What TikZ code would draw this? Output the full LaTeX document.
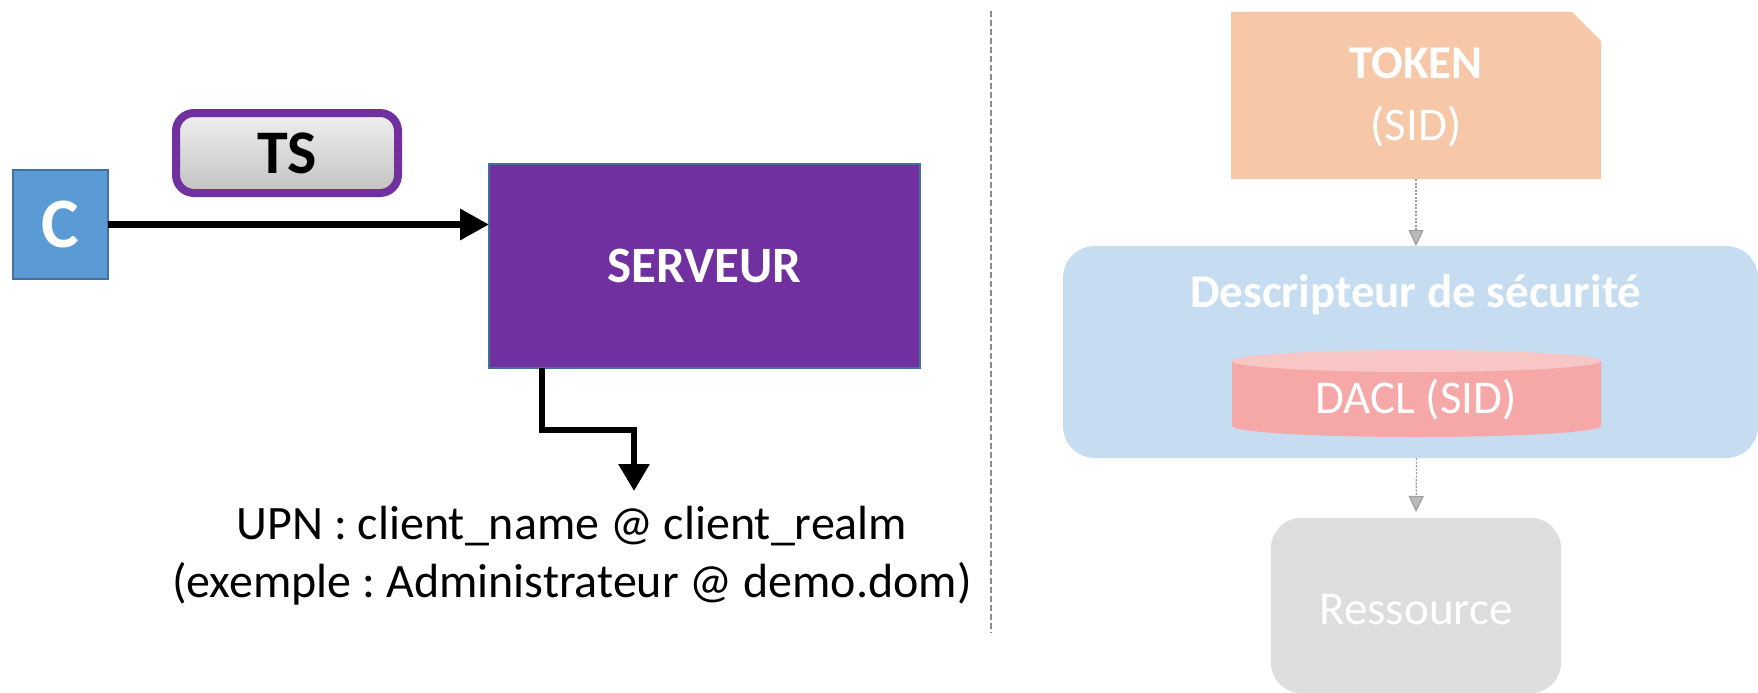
\documentclass[tikz,border=0pt]{standalone}
\usepackage{fontspec}
\setmainfont{Carlito}
\frenchspacing
\usetikzlibrary{arrows.meta,calc}
\definecolor{cblue}{HTML}{5B9BD5}
\definecolor{cborder}{HTML}{41719C}
\definecolor{cpurple}{HTML}{7030A0}
\definecolor{ftoken}{HTML}{F7C8A7}
\definecolor{fblue}{HTML}{C6DCF1}
\definecolor{fred}{HTML}{F6A8A8}
\definecolor{fredtop}{HTML}{F9C6C6}
\definecolor{fgray}{HTML}{DDDDDD}
\definecolor{sepgray}{HTML}{8C8C8C}
\definecolor{fadeline}{HTML}{9C9C9C}
\begin{document}
\begin{tikzpicture}[x=1pt,y=-1pt,
  plain/.style={inner sep=0pt, outer sep=0pt},
  cbox/.style={plain, rectangle, fill=cblue, draw=cborder, line width=1.5pt,
    minimum width=95pt, minimum height=109pt, text=white,
    font=\fontsize{71}{80}\selectfont\bfseries},
  tsbox/.style={plain, rectangle, rounded corners=18pt, draw=cpurple, line width=8pt,
    top color=black!6, bottom color=black!24,
    minimum width=222pt, minimum height=80pt,
    font=\fontsize{62}{70}\selectfont\bfseries},
  srvbox/.style={plain, rectangle, fill=cpurple, draw=cborder, line width=1.5pt,
    minimum width=431pt, minimum height=204pt, text=white,
    font=\fontsize{51}{60}\selectfont\bfseries},
  bigarrow/.style={line width=6.5pt, -{Triangle[length=29pt,width=30pt]}},
  elbowarrow/.style={line width=6pt, -{Triangle[length=27pt,width=30pt]}},
  upntext/.style={plain, align=center, font=\fontsize{48}{58}\selectfont},
  sepline/.style={draw=sepgray, line width=1.5pt, dash pattern=on 6pt off 3pt},
  ghost/.style={plain, rectangle},
  fadetext/.style={plain, align=center, text=white, font=\fontsize{47}{62}\selectfont},
  fadearrow/.style={draw=fadeline, line width=1.2pt, dash pattern=on 2pt off 1.5pt,
    -{Triangle[length=16pt,width=15pt,fill=fadeline!70]}},
]
\useasboundingbox (0,0) rectangle (1758,693);

% left part
\node[cbox] (c) at (60.5,224.5) {C};
\node[tsbox] (ts) at (287,153) {TS};
\node[srvbox] (srv) at (704.5,266) {SERVEUR};
\draw[bigarrow] (c.east) -- (c.east -| srv.west);
\coordinate (tip) at (634,491);
\draw[elbowarrow] ([xshift=53pt]srv.south west) -- ++(0,62) -| (tip);
\node[upntext] (upn) at (572,556) {UPN : client\_name @ client\_realm\\(exemple : Administrateur @ demo.dom)};

% separator
\coordinate (septop) at (991,11);
\coordinate (sepbot) at (991,633);
\draw[sepline] (septop) -- (sepbot);

% right part (faded)
\node[ghost, minimum width=370pt, minimum height=167pt] (token) at (1416,95.5) {};
\fill[ftoken] (token.north west) -- ([xshift=-29pt]token.north east)
  -- ([yshift=-29pt]token.north east) -- (token.south east) -- (token.south west) -- cycle;
\node[fadetext] (tokentxt) at (1416,97) {\textbf{TOKEN}\\(SID)};

\node[ghost, fill=fblue, rounded corners=32pt, minimum width=695pt, minimum height=212pt] (desc) at (1410.5,352) {};
\node[fadetext, font=\fontsize{47}{56}\selectfont\bfseries] (desctxt) at (1416,295) {Descripteur de sécurité};

\node[ghost, minimum width=369pt, minimum height=87pt] (dacl) at (1416.5,393.5) {};
\fill[fred] (1232,361) -- (1232,426) arc[start angle=180, end angle=360, x radius=184.5pt, y radius=11pt]
  -- (1601,361) -- cycle;
\fill[fredtop] (1416.5,361) ellipse[x radius=184.5pt, y radius=11pt];
\node[fadetext] (dacltxt) at (1416,400) {DACL (SID)};

\node[ghost, fill=fgray, rounded corners=30pt, minimum width=290pt, minimum height=175pt] (res) at (1416,605.5) {};
\node[fadetext] (restxt) at (1416,610) {Ressource};

\draw[fadearrow] (token.south) -- (token.south |- desc.north);
\draw[fadearrow, shorten >=6pt] (dacl.south |- desc.south) -- (res.north);
\end{tikzpicture}
\end{document}
